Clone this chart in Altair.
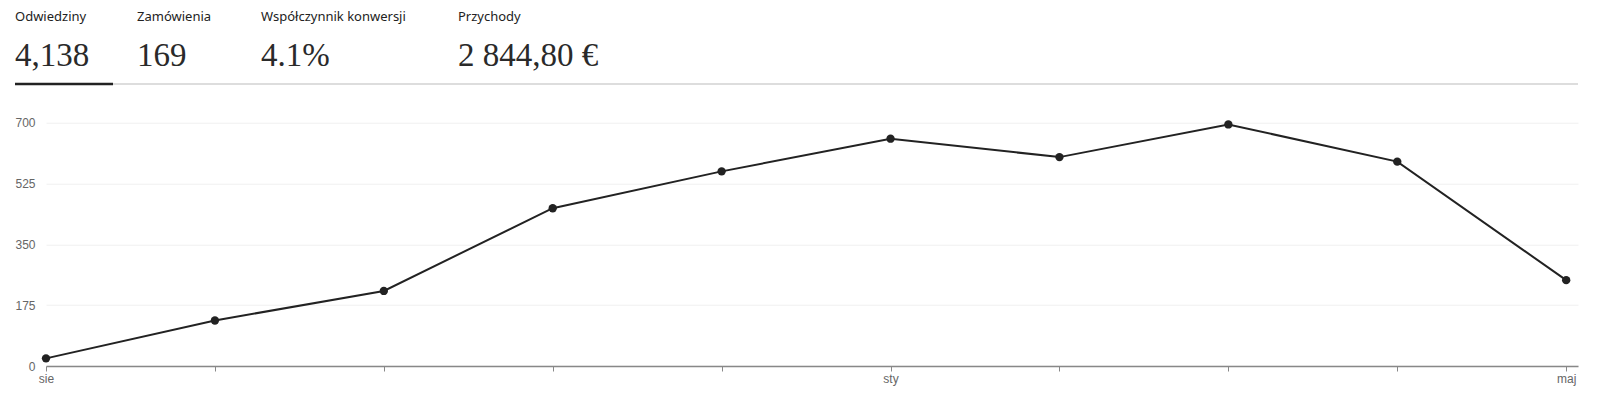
import altair as alt
import pandas as pd

# ---- data ----
month_index = [0, 1, 2, 3, 4, 5, 6, 7, 8, 9]
month_names = ["sie", "wrz", "paź", "lis", "gru", "sty", "lut", "mar", "kwi", "maj"]
shown_labels = ["sie", "", "", "", "", "sty", "", "", "", "maj"]
visits = [22, 131, 216, 454, 560, 654, 601, 695, 588, 247]
y_ticks = [0, 175, 350, 525, 700]

header_labels = ["Odwiedziny", "Zamówienia", "Współczynnik konwersji", "Przychody"]
header_values = ["4,138", "169", "4.1%", "2 844,80 €"]

df = pd.DataFrame({"i": month_index, "month": month_names, "visits": visits})
hdr = pd.DataFrame({"label": header_labels, "value": header_values})

# ---- layout (pixels relative to plot area) ----
PLOT_LEFT = 46
PLOT_TOP = 122.7
W = 1532
H = 243.3
header_x = [15 - PLOT_LEFT, 137 - PLOT_LEFT, 261 - PLOT_LEFT, 458 - PLOT_LEFT]

label_expr = "[" + ",".join("'%s'" % s for s in shown_labels) + "][datum.value]"

x_enc = alt.X(
    "i:Q",
    scale=alt.Scale(domain=[0, 9.07], nice=False, zero=False),
    axis=alt.Axis(
        values=month_index,
        labelExpr=label_expr,
        title=None,
        grid=False,
        tickSize=5,
        tickColor="#888888",
        domainColor="#888888",
        domainWidth=1.5,
        labelFlush=False,
        labelFont="Liberation Sans",
        labelFontSize=12,
        labelColor="#666666",
        labelPadding=2,
    ),
)
y_enc = alt.Y(
    "visits:Q",
    scale=alt.Scale(domain=[0, 700], nice=False),
    axis=alt.Axis(
        values=y_ticks,
        title=None,
        domain=False,
        ticks=False,
        gridColor="#f0f0f0",
        gridWidth=1,
        labelFont="Liberation Sans",
        labelFontSize=12,
        labelColor="#666666",
        labelPadding=11,
    ),
)

base = alt.Chart(df)
line = base.mark_line(color="#222222", strokeWidth=2).encode(x=x_enc, y=y_enc)
pts = base.mark_circle(color="#222222", size=70, opacity=1).encode(x="i:Q", y="visits:Q")

layers = [line, pts]

# header separator lines
sep_y = 84 - PLOT_TOP
gray_rule = alt.Chart(hdr.iloc[[0]]).mark_rule(color="#dddddd", strokeWidth=2).encode(
    x=alt.value(15 - PLOT_LEFT), x2=alt.value(1578 - PLOT_LEFT), y=alt.value(sep_y)
)
dark_rule = alt.Chart(hdr.iloc[[0]]).mark_rule(color="#222222", strokeWidth=2.5).encode(
    x=alt.value(15 - PLOT_LEFT), x2=alt.value(113 - PLOT_LEFT), y=alt.value(sep_y)
)
layers += [gray_rule, dark_rule]

for k in range(len(header_labels)):
    row = hdr.iloc[[k]]
    t1 = alt.Chart(row).mark_text(
        align="left", baseline="alphabetic", font="Noto Sans", fontSize=13, color="#222222"
    ).encode(x=alt.value(header_x[k]), y=alt.value(20.5 - PLOT_TOP), text="label:N")
    t2 = alt.Chart(row).mark_text(
        align="left", baseline="alphabetic", font="Liberation Serif", fontSize=33, color="#2a2a2a"
    ).encode(x=alt.value(header_x[k]), y=alt.value(66 - PLOT_TOP), text="value:N")
    layers += [t1, t2]

chart = alt.layer(*layers).properties(
    width=W,
    height=H,
    autosize=alt.AutoSizeParams(type="none"),
    padding={"left": PLOT_LEFT - 8, "top": PLOT_TOP - 8, "right": 14, "bottom": 28},
).configure_view(stroke=None)

chart.save("out.html", embed_options={"renderer": "svg", "actions": False})
